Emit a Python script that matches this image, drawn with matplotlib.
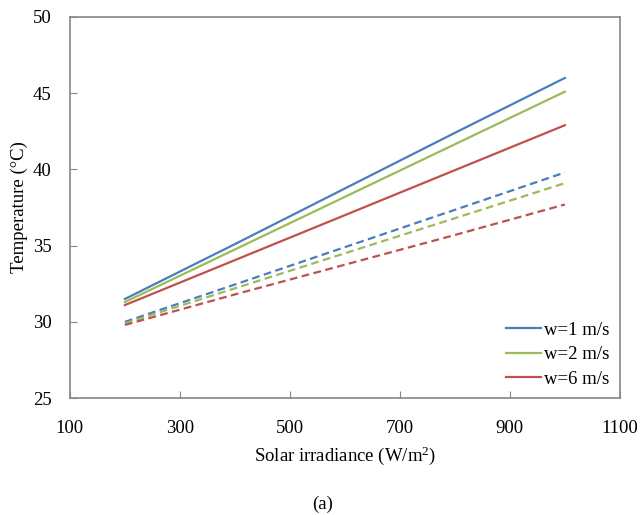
import numpy as np
import matplotlib.pyplot as plt

plt.rcParams['font.family'] = ['Liberation Serif', 'DejaVu Serif']
plt.rcParams['mathtext.fontset'] = 'custom'
plt.rcParams['mathtext.rm'] = 'Liberation Serif'

irradiance = [200, 400, 600, 800, 1000]

# solid lines
t_w1 = [31.5, 35.1, 38.75, 42.4, 46.0]
t_w2 = [31.3, 34.75, 38.2, 41.65, 45.1]
t_w6 = [31.1, 34.05, 37.0, 39.95, 42.9]

# dashed lines
t_w1_d = [30.0, 32.45, 34.9, 37.35, 39.8]
t_w2_d = [29.9, 32.2, 34.5, 36.8, 39.1]
t_w6_d = [29.8, 31.8, 33.75, 35.7, 37.7]

labels = ['w=1 m/s', 'w=2 m/s', 'w=6 m/s']
colors = ['#4A7EBB', '#9BBB59', '#C0504D']

fig = plt.figure(figsize=(6.41, 5.15), dpi=100)
ax = fig.add_axes([0.109, 0.227, 0.858, 0.740])

for ys, c, lab in zip([t_w1, t_w2, t_w6], colors, labels):
    ax.plot(irradiance, ys, color=c, lw=1.6, label=lab)
for ys, c in zip([t_w1_d, t_w2_d, t_w6_d], colors):
    ax.plot(irradiance, ys, color=c, lw=1.6, dashes=(3.5, 2))

ax.set_xlim(100, 1100)
ax.set_ylim(25, 50)
ax.set_xticks(np.arange(100, 1101, 200))
ax.set_yticks(np.arange(25, 51, 5))
ax.tick_params(direction='in', length=5, color='#868686', labelsize=13.5)
ax.tick_params(axis='x', pad=16)
ax.tick_params(axis='y', pad=13)
for s in ax.spines.values():
    s.set_color('#868686')
    s.set_linewidth(1.2)

ax.set_xlabel(r'Solar irradiance (W/m$\mathregular{^2}$)', fontsize=13.5, labelpad=5)
ax.set_ylabel('Temperature (°C)', fontsize=13.5, labelpad=4)

ax.legend(loc='lower right', frameon=False, fontsize=13.5, handlelength=1.9,
          handletextpad=0.15, labelspacing=0.4, borderaxespad=0.15)

fig.text(0.503, 0.012, '(a)', ha='center', fontsize=13.5)

fig.savefig('out.png', dpi=100)
